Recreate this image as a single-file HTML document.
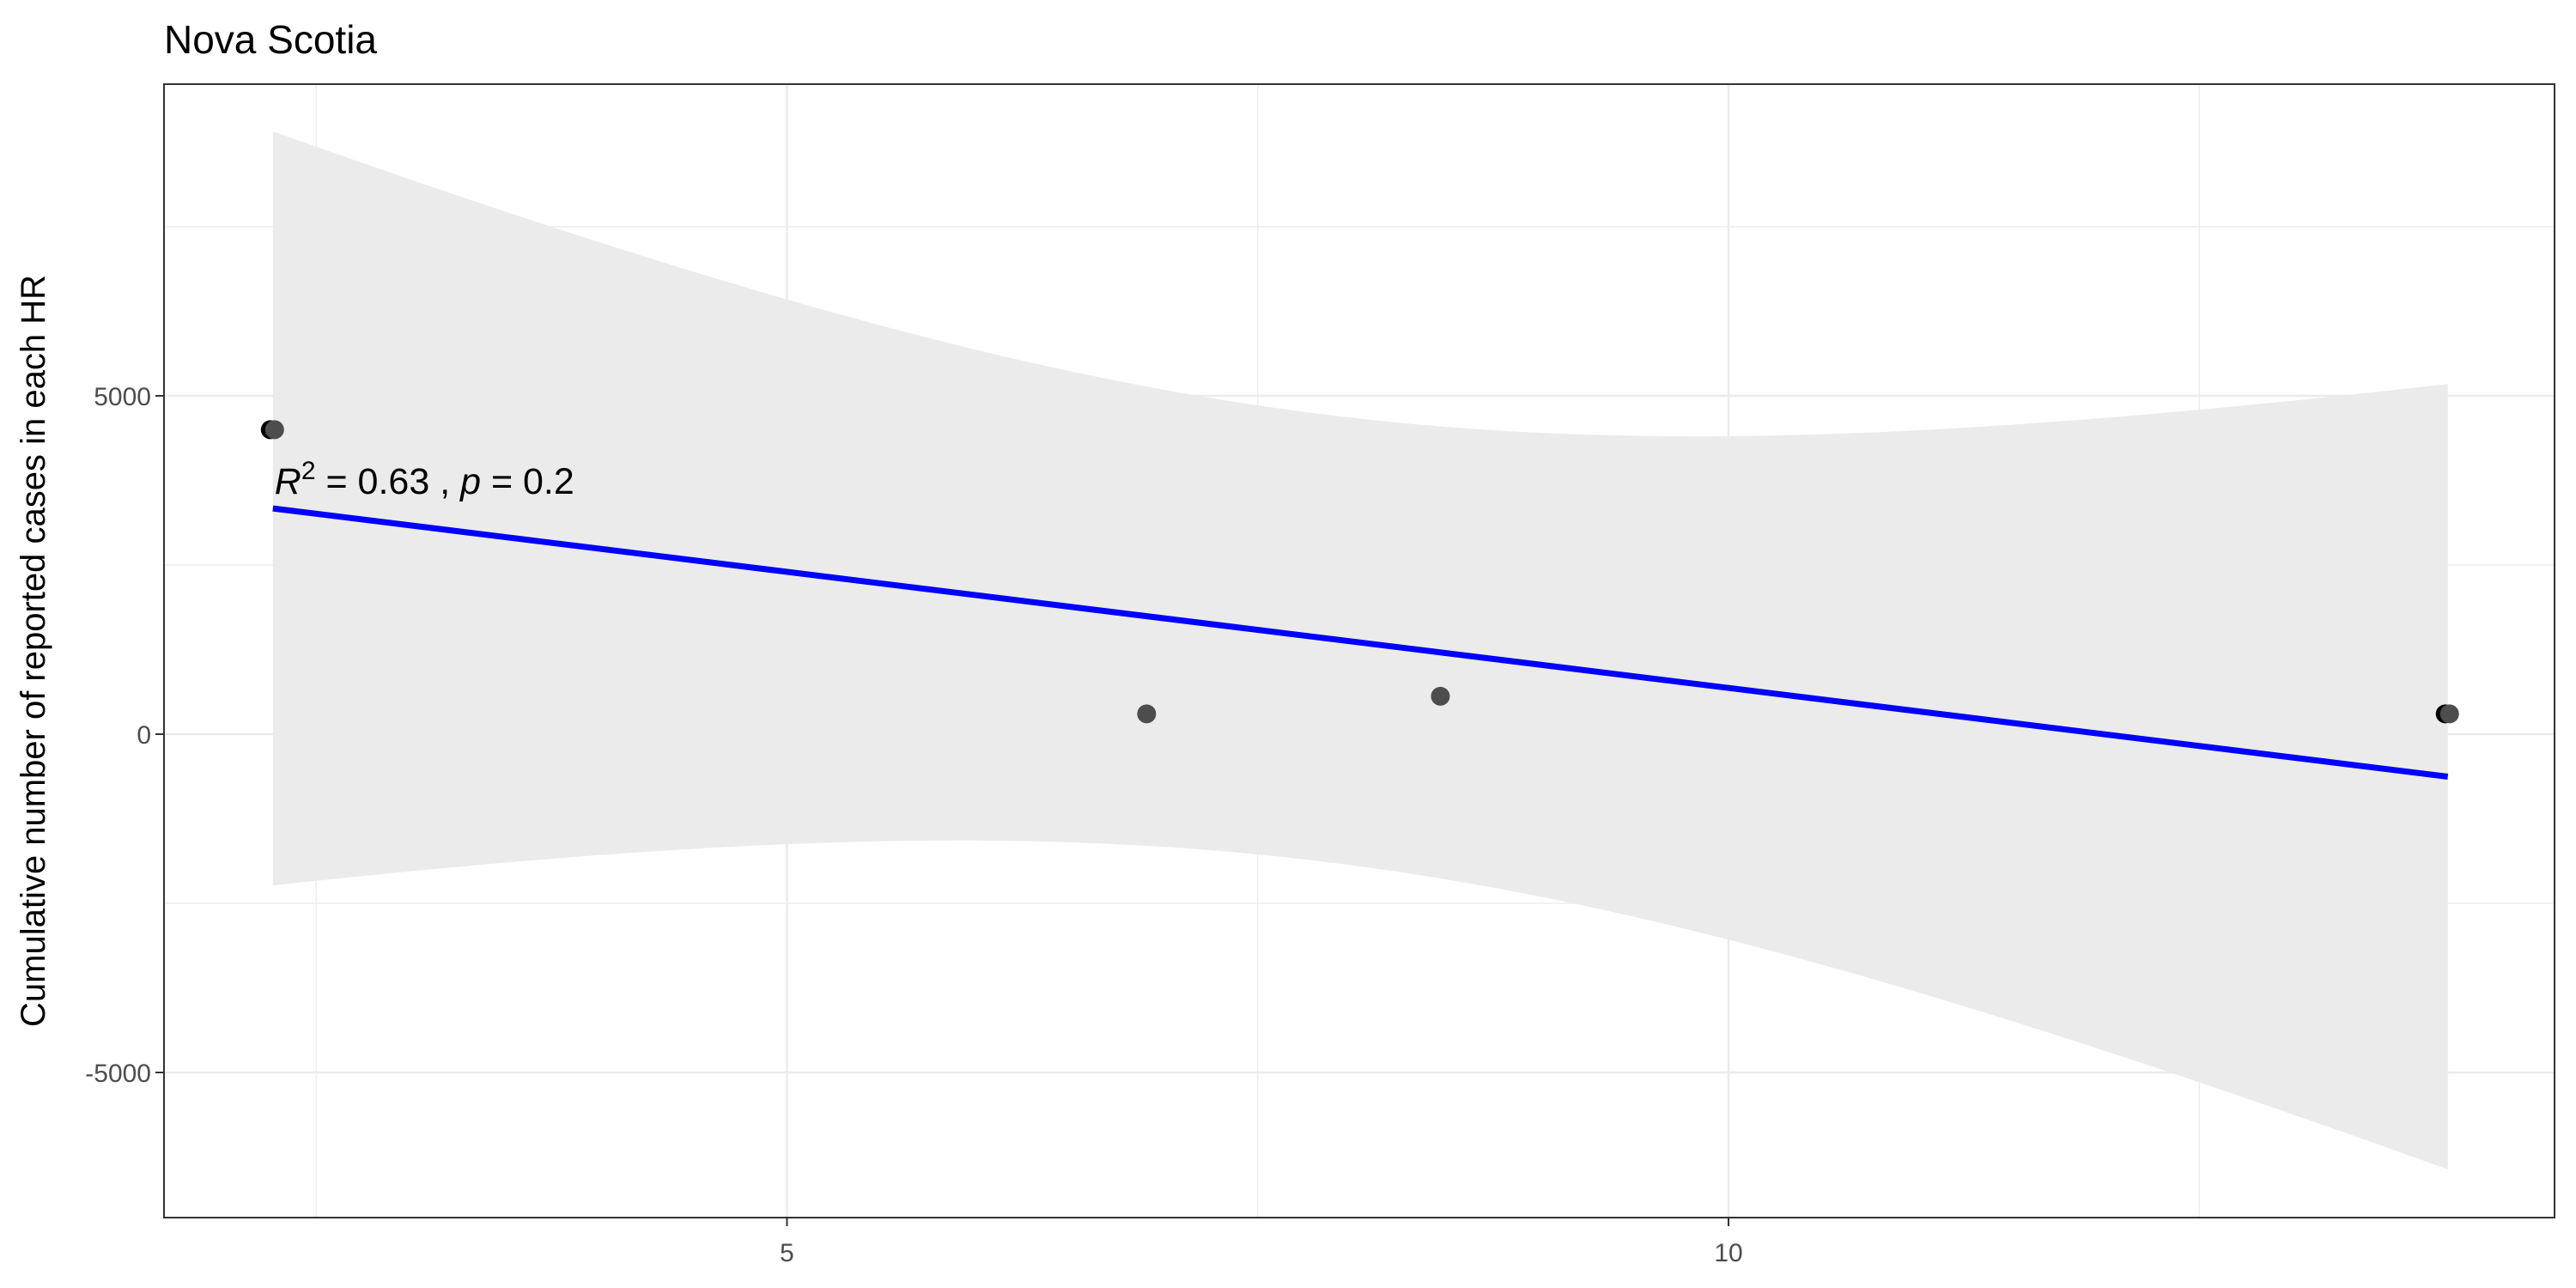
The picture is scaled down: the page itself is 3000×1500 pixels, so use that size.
<!DOCTYPE html>
<html><head><meta charset="utf-8"><style>
html,body{margin:0;padding:0;background:#fff;}
svg{display:block;font-family:"Liberation Sans",sans-serif;}
</style></head><body>
<svg id="chart" width="3000" height="1500" viewBox="0 0 3000 1500">
<text x="191" y="62" font-size="46" fill="#000">Nova Scotia</text>
<g id="plot"></g>
</svg>
<script>
const xVals = [2.27, 6.91, 8.47, 13.82];
const yVals = [4500, 300, 560, 300];
const xTicks = [5, 10];
const xMinor = [2.5, 7.5, 12.5];
const yTicks = [-5000, 0, 5000];
const yMinor = [-7500, -2500, 2500, 7500];

const L=191,R=2975,T=98,B=1418;
const sx = v => 916.5 + (v-5)*219.3;
const sy = v => 855 - v*0.0788;
const NS="http://www.w3.org/2000/svg";
const g=document.getElementById('plot');
function mk(tag,attrs,parent){const e=document.createElementNS(NS,tag);for(const k in attrs)e.setAttribute(k,attrs[k]);(parent||g).appendChild(e);return e;}

xMinor.forEach(v=>{const e=mk('line',{x1:sx(v),x2:sx(v),y1:T,y2:B,stroke:'#ebebeb','stroke-width':1.2});

});
yMinor.forEach(v=>{const y=sy(v);if(y<T||y>B)return;const e=mk('line',{x1:L,x2:R,y1:y,y2:y,stroke:'#ebebeb','stroke-width':1.2});

});
xTicks.forEach(v=>{const e=mk('line',{x1:sx(v),x2:sx(v),y1:T,y2:B,stroke:'#ebebeb','stroke-width':2.4});

});
yTicks.forEach(v=>{const e=mk('line',{x1:L,x2:R,y1:sy(v),y2:sy(v),stroke:'#ebebeb','stroke-width':2.4});

});

const n=xVals.length;
const mx=xVals.reduce((a,b)=>a+b)/n, my=yVals.reduce((a,b)=>a+b)/n;
let sxx=0,sxy=0,sst=0;
for(let i=0;i<n;i++){sxx+=(xVals[i]-mx)**2;sxy+=(xVals[i]-mx)*(yVals[i]-my);sst+=(yVals[i]-my)**2;}
const b=sxy/sxx,a=my-b*mx;
let sse=0;for(let i=0;i<n;i++)sse+=(yVals[i]-a-b*xVals[i])**2;
const s=Math.sqrt(sse/(n-2));
const tq=[0,12.706,4.303,3.182,2.776,2.571][n-2]||1.96;
const x0=Math.min(...xVals),x1=Math.max(...xVals);
const up=[],lo=[];
for(let i=0;i<=80;i++){const x=x0+(x1-x0)*i/80;const f=a+b*x;const hw=tq*s*Math.sqrt(1/n+(x-mx)**2/sxx);
up.push(sx(x)+','+sy(f+hw));lo.unshift(sx(x)+','+sy(f-hw));}
const rib=mk('polygon',{points:up.concat(lo).join(' '),fill:'#ebebeb'});


const ln=mk('line',{x1:sx(x0),y1:sy(a+b*x0),x2:sx(x1),y2:sy(a+b*x1),stroke:'#0000ff','stroke-width':7});



xVals.forEach((x,i)=>{
 if(i===0||i===n-1){const d=mk('circle',{cx:sx(x)-3,cy:sy(yVals[i]),r:11,fill:'#000'});
 
 }
 const c=mk('circle',{cx:sx(x)+(i===0||i===n-1?2:0),cy:sy(yVals[i]),r:11,fill:'#4d4d4d'});
 
 
});

const r2=1-sse/sst;
const an=mk('text',{x:sx(x0)+2,y:575,'font-size':43,fill:'#000'});


an.innerHTML='<tspan font-style="italic">R</tspan><tspan dy="-17" font-size="30">2</tspan><tspan dy="17"> = '+r2.toFixed(2)+' , </tspan><tspan font-style="italic">p</tspan><tspan> = 0.2</tspan>';

const bd=mk('rect',{x:L,y:T,width:R-L,height:B-T,fill:'none',stroke:'#333','stroke-width':2});



xTicks.forEach(v=>{mk('line',{x1:sx(v),x2:sx(v),y1:B,y2:B+10,stroke:'#333','stroke-width':2});
 const t=mk('text',{x:sx(v),y:1469,'font-size':30,fill:'#4d4d4d','text-anchor':'middle'});t.textContent=v;
 
 });
yTicks.forEach(v=>{mk('line',{x1:L-10,x2:L,y1:sy(v),y2:sy(v),stroke:'#333','stroke-width':2});
 const t=mk('text',{x:L-15,y:sy(v)+11,'font-size':30,fill:'#4d4d4d','text-anchor':'end'});t.textContent=v;
 
 });

const yt=mk('text',{x:0,y:0,'font-size':40,fill:'#000','text-anchor':'middle',transform:'translate(52,758) rotate(-90)'});
yt.textContent='Cumulative number of reported cases in each HR';


</script>
</body></html>
